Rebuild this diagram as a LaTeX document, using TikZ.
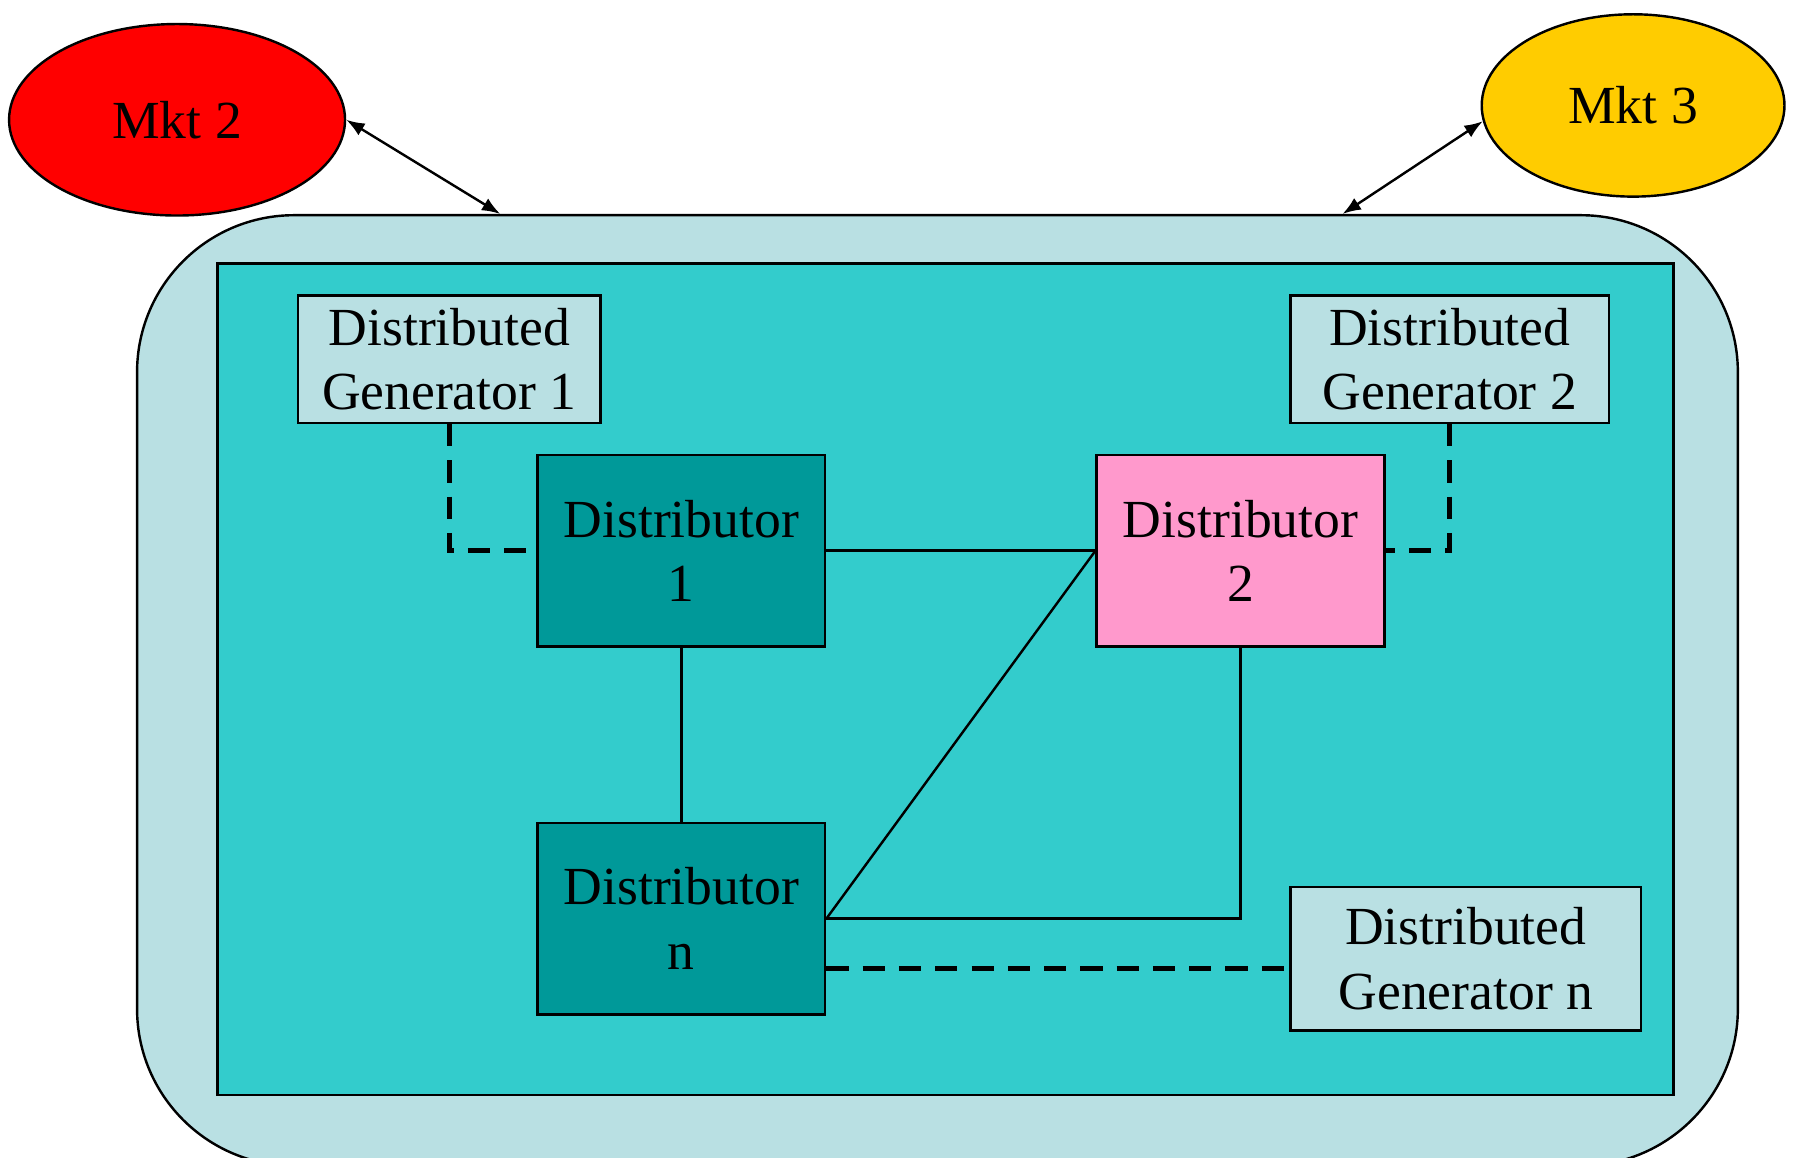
\documentclass[tikz,border=0pt]{standalone}
\usepackage{fontspec}
\setmainfont{Liberation Serif}
\usetikzlibrary{arrows.meta,shapes.geometric,calc}
\definecolor{PoolClr}{RGB}{185,224,227}
\definecolor{AreaClr}{RGB}{51,204,204}
\definecolor{DistClr}{RGB}{0,153,153}
\definecolor{PinkClr}{RGB}{255,153,204}
\definecolor{RedClr}{RGB}{255,0,0}
\definecolor{GoldClr}{RGB}{255,204,0}

\begin{document}
\begin{tikzpicture}[x=0.01cm,y=-0.01cm,
  font=\fontsize{13.3}{16}\selectfont,
  box/.style={draw,line width=0.6pt,inner sep=0pt,align=center},
  mkt/.style={ellipse,draw,line width=0.6pt,inner sep=0pt},
  link/.style={line width=0.6pt},
  dashlink/.style={line width=1.3pt,dash pattern=on 5.5pt off 3.5pt},
  dbl/.style={{Latex[length=1.6mm,width=1.2mm]}-{Latex[length=1.6mm,width=1.2mm]},line width=0.6pt}]
\useasboundingbox (0,0) rectangle (1568,1010.4);

% areas
\node[box,fill=PoolClr,rounded corners=1.37cm,minimum width=13.96cm,minimum height=8.29cm] (Pool) at (818,602.5) {};
\node[box,fill=AreaClr,minimum width=12.70cm,minimum height=7.25cm] (Area) at (825,592.5) {};

% markets
\node[mkt,fill=RedClr,minimum width=2.93cm,minimum height=1.67cm] (M2) at (154.5,104.5) {Mkt 2};
\node[mkt,fill=GoldClr,minimum width=2.64cm,minimum height=1.59cm] (M3) at (1425,92) {Mkt 3};

% generators and distributors
\node[box,fill=PoolClr,minimum width=2.64cm,minimum height=1.11cm] (G1) at (392,313.5) {Distributed\\Generator 1};
\node[box,fill=PoolClr,minimum width=2.78cm,minimum height=1.11cm] (G2) at (1265,313.5) {Distributed\\Generator 2};
\node[box,fill=PoolClr,minimum width=3.06cm,minimum height=1.25cm] (Gn) at (1279,836.5) {Distributed\\Generator n};
\node[box,fill=DistClr,minimum width=2.51cm,minimum height=1.67cm] (D1) at (594.5,480.5) {Distributor\\1};
\node[box,fill=PinkClr,minimum width=2.51cm,minimum height=1.67cm] (D2) at (1082.5,480.5) {Distributor\\2};
\node[box,fill=DistClr,minimum width=2.51cm,minimum height=1.67cm] (Dn) at (594.5,801.5) {Distributor\\n};

\path (Pool.north west) ++(318,0) coordinate (P2);
\path (Pool.north east) ++(-346,0) coordinate (P3);
\draw[dbl] (M2.east) -- (P2);
\draw[dbl] (M3.186) -- (P3);

\draw[dashlink] (G1.south) |- (D1.west);
\draw[dashlink] (G2.south) |- (D2.east);
\draw[link] (D1.east) -- (D2.west);
\draw[link] (D1.south) -- (Dn.north);
\draw[link] (D2.west) -- (Dn.east);
\draw[link] (D2.south) |- (Dn.east);
\coordinate (Dnb) at ($(Dn.east)+(0,43.5)$);
\draw[dashlink] (Dnb) -- (Dnb -| Gn.west);

\end{tikzpicture}
\end{document}
